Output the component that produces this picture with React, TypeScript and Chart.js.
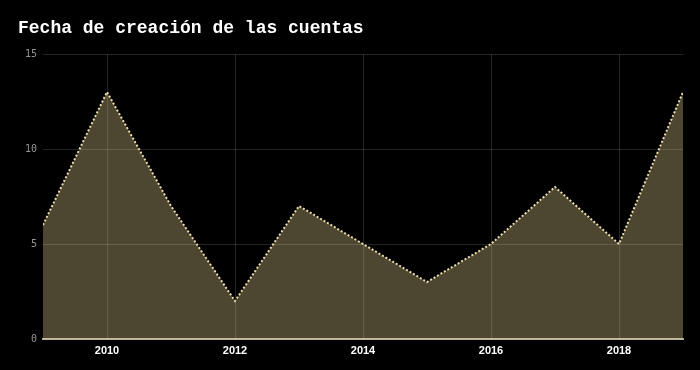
import React, { useEffect, useRef } from "react";
import { Chart, registerables } from "chart.js";

Chart.register(...registerables);

const TITLE = "Fecha de creación de las cuentas";
const years = [2009, 2010, 2011, 2012, 2013, 2014, 2015, 2016, 2017, 2018, 2019];
const counts = [6, 13, 7, 2, 7, 5, 3, 5, 8, 5, 13];
const yTicks = [0, 5, 10, 15];

const titlePlugin = {
  id: "customTitle",
  afterDraw(chart: any) {
    const ctx = chart.ctx;
    ctx.save();
    ctx.fillStyle = "#ffffff";
    ctx.font = "bold 18px 'Courier New', 'Liberation Mono', monospace";
    ctx.textBaseline = "middle";
    ctx.textAlign = "left";
    ctx.fillText(TITLE, 18, 28);
    ctx.restore();
  },
};

export default function App() {
  const ref = useRef<HTMLCanvasElement>(null);
  useEffect(() => {
    document.body.style.margin = "0";
    document.body.style.background = "#000";
    const chart = new Chart(ref.current!, {
      type: "line",
      data: {
        datasets: [
          {
            data: years.map((y, i) => ({ x: y, y: counts[i] })),
            borderColor: "#eadba8",
            borderWidth: 2,
            borderDash: [2, 2],
            backgroundColor: "rgba(255,233,163,0.3)",
            fill: "origin",
            pointRadius: 0,
            tension: 0,
          },
        ],
      },
      plugins: [titlePlugin],
      options: {
        animation: false,
        responsive: false,
        maintainAspectRatio: false,
        layout: { padding: { left: 0, right: 17, top: 54, bottom: 0 } },
        plugins: { legend: { display: false }, tooltip: { enabled: false }, title: { display: false } },
        scales: {
          x: {
            type: "linear",
            min: years[0],
            max: years[years.length - 1],
            afterBuildTicks: (scale: any) => {
              scale.ticks = years.filter((y) => y % 2 === 0).map((v) => ({ value: v }));
            },
            afterFit: (scale: any) => {
              scale.height = 31;
            },
            grid: { color: "rgba(255,255,255,0.14)", drawTicks: false, lineWidth: 1 },
            border: { color: "rgba(235,225,195,0.75)", width: 2 },
            ticks: {
              color: "#ffffff",
              font: { family: "'Liberation Sans', Arial, sans-serif", size: 11, weight: "bold" },
              padding: 5,
              callback: (v: any) => String(v),
            },
          },
          y: {
            min: 0,
            max: 15,
            afterBuildTicks: (scale: any) => {
              scale.ticks = yTicks.map((v) => ({ value: v }));
            },
            afterFit: (scale: any) => {
              scale.width = 43;
            },
            grid: { color: "rgba(255,255,255,0.14)", drawTicks: false, lineWidth: 1 },
            border: { display: false },
            ticks: {
              color: "#959595",
              font: { family: "'DejaVu Sans Mono', monospace", size: 10 },
              padding: 6,
            },
          },
        },
      },
    } as any);
    return () => chart.destroy();
  }, []);
  return (
    <div style={{ width: 700, height: 370, background: "#000" }}>
      <canvas ref={ref} width={700} height={370} style={{ display: "block" }} />
    </div>
  );
}
